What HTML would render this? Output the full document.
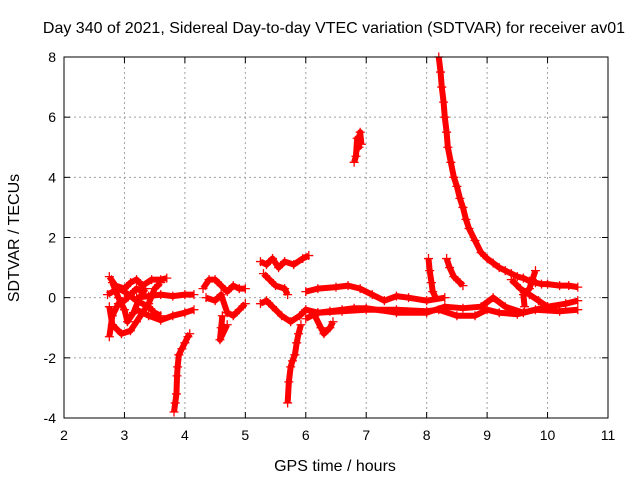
<!DOCTYPE html>
<html><head><meta charset="utf-8"><style>
body{margin:0;background:#fff}
svg text{font-family:"Liberation Sans",sans-serif;font-size:14px;fill:#000}
svg text.big{font-size:16px}
</style></head><body>
<svg id="chart" width="640" height="480">
<text class="big" x="334" y="33" text-anchor="middle">Day 340 of 2021, Sidereal Day-to-day VTEC variation (SDTVAR) for receiver av01</text>
<text class="big" x="335" y="471" text-anchor="middle">GPS time / hours</text>
<text class="big" transform="translate(19,238) rotate(-90)" text-anchor="middle">SDTVAR / TECUs</text>
<g id="grid"></g><g id="marks"></g>
<rect x="64" y="57" width="544" height="361" fill="none" stroke="#000"/>
</svg>
<script>
const xTicks=[2,3,4,5,6,7,8,9,10,11];
const yTicks=[-4,-2,0,2,4,6,8];
const trackEarlyUpper=[[3.2,0.0],[3.4,0.05],[3.6,0.1],[3.8,0.05],[4.0,0.1],[4.15,0.1]];
const trackEarlyLower=[[3.2,-0.4],[3.4,-0.6],[3.6,-0.75],[3.8,-0.6],[4.0,-0.5],[4.15,-0.4]];
const trackLoop1=[[2.75,0.7],[2.85,0.4],[3.0,0.3],[3.1,0.5],[3.2,0.6],[3.3,0.4],[3.45,0.6],[3.6,0.6],[3.7,0.65]];
const trackLoop2=[[2.75,-0.3],[2.8,-0.9],[2.95,-1.2],[3.1,-1.1],[3.2,-0.8],[3.3,-0.5],[3.4,-0.2],[3.5,0.3],[3.6,0.5]];
const trackLoop3=[[2.72,0.1],[2.9,0.3],[3.0,0.2],[3.2,-0.1],[3.4,-0.3],[3.5,-0.5],[3.6,-0.6]];
const trackLoop4=[[2.75,-1.3],[2.8,-0.6],[2.9,-0.2],[3.0,-0.1],[3.1,0.1],[3.2,0.3],[3.3,0.2]];
const trackLoop5=[[2.8,0.5],[2.9,0.0],[3.0,-0.4],[3.05,-0.8],[3.15,-0.5],[3.25,0.0],[3.35,0.3]];
const trackDrop1=[[3.82,-3.8],[3.84,-3.5],[3.86,-3.2],[3.87,-2.6],[3.88,-2.3],[3.9,-1.9],[3.95,-1.7],[4.0,-1.5],[4.05,-1.3],[4.08,-1.2]];
const trackMidUpper=[[4.3,0.3],[4.4,0.6],[4.5,0.6],[4.6,0.4],[4.7,0.2],[4.8,0.4],[4.9,0.3],[5.0,0.3]];
const trackMidLower=[[4.35,0.0],[4.5,-0.1],[4.6,0.1],[4.7,-0.5],[4.8,-0.6],[4.9,-0.4],[5.0,-0.2]];
const trackMidDangle=[[4.62,-0.6],[4.6,-1.0],[4.58,-1.4],[4.7,-0.9]];
const trackHigh=[[5.25,1.2],[5.35,1.1],[5.45,1.3],[5.55,1.0],[5.65,1.2],[5.8,1.1],[5.95,1.3],[6.05,1.4]];
const trackHighDangle=[[5.3,0.8],[5.4,0.6],[5.5,0.4],[5.65,0.3],[5.7,0.1]];
const trackLow=[[5.25,-0.2],[5.35,-0.1],[5.45,-0.3],[5.6,-0.6],[5.75,-0.8],[5.9,-0.6],[6.0,-0.4],[6.2,-0.5],[6.4,-0.45],[6.6,-0.4],[6.8,-0.35],[7.0,-0.35],[7.5,-0.5],[8.0,-0.5],[8.3,-0.3],[8.6,-0.35],[8.9,-0.3],[9.1,0.0],[9.3,-0.3],[9.6,-0.5],[10.0,-0.3],[10.3,-0.2],[10.5,-0.1]];
const trackLow2=[[6.0,-0.7],[6.2,-0.5],[6.6,-0.45],[7.0,-0.4],[7.5,-0.4],[8.0,-0.45],[8.2,-0.4],[8.5,-0.6],[8.8,-0.6],[9.0,-0.4],[9.2,-0.5],[9.5,-0.55],[9.8,-0.4],[10.2,-0.45],[10.5,-0.4]];
const trackDrop2=[[5.7,-3.5],[5.72,-2.8],[5.75,-2.3],[5.78,-2.1],[5.82,-1.9],[5.85,-1.5],[5.88,-1.2],[5.92,-0.9]];
const trackBump=[[6.0,0.2],[6.2,0.3],[6.5,0.35],[6.7,0.4],[6.9,0.3],[7.1,0.1],[7.3,-0.1],[7.5,0.05],[7.7,0.0],[8.0,-0.1],[8.3,0.0]];
const trackCluster=[[6.15,-0.6],[6.25,-1.0],[6.3,-1.2],[6.4,-1.0],[6.45,-0.8]];
const trackIsland=[[6.8,4.5],[6.83,4.7],[6.85,5.3],[6.88,5.0],[6.9,5.5],[6.92,5.1]];
const trackDecay=[[8.2,8.0],[8.23,7.5],[8.25,7.0],[8.28,6.5],[8.3,6.0],[8.33,5.5],[8.35,5.0],[8.4,4.5],[8.45,4.0],[8.5,3.7],[8.55,3.3],[8.6,3.0],[8.65,2.6],[8.7,2.3],[8.8,1.9],[8.9,1.5],[9.0,1.3],[9.1,1.15],[9.2,1.0],[9.3,0.9],[9.4,0.8],[9.5,0.7],[9.6,0.65],[9.7,0.55],[9.8,0.5],[9.9,0.45],[10.0,0.45],[10.2,0.4],[10.35,0.4],[10.5,0.35]];
const trackBranch=[[9.4,0.6],[9.55,0.3],[9.7,0.1],[9.85,-0.1],[10.0,-0.3]];
const spikeA=[[8.03,1.3],[8.05,0.9],[8.08,0.5],[8.1,0.2],[8.15,0.0]];
const spikeB=[[8.33,1.3],[8.38,1.0],[8.45,0.7],[8.55,0.5],[8.6,0.4]];
const spikeC=[[9.8,0.9],[9.75,0.6],[9.7,0.3],[9.6,0.1],[9.62,-0.3]];
const tracks=[trackEarlyUpper,trackEarlyLower,trackLoop1,trackLoop2,trackLoop3,trackLoop4,trackLoop5,trackDrop1,trackMidUpper,trackMidLower,trackMidDangle,trackHigh,trackHighDangle,trackLow,trackLow2,trackDrop2,trackBump,trackCluster,trackIsland,trackDecay,trackBranch,spikeA,spikeB,spikeC];
const X0=64,X1=608,Y0=418,Y1=57;
const sx=t=>X0+(t-2)/9*(X1-X0);
const sy=v=>Y0-(v+4)/12*(Y0-Y1);
const NS="http://www.w3.org/2000/svg";
const grid=document.getElementById('grid'),marks=document.getElementById('marks');
function mk(tag,attrs,parent){const e=document.createElementNS(NS,tag);for(const k in attrs)e.setAttribute(k,attrs[k]);parent.appendChild(e);return e;}
xTicks.forEach(t=>{const x=sx(t);
 if(t>2&&t<11){const g=mk('line',{x1:x,x2:x,y1:Y1,y2:Y0,stroke:'#a0a0a0','stroke-dasharray':'2,3'},grid);
 
 }
 mk('line',{x1:x,x2:x,y1:Y0,y2:Y0-6,stroke:'#000'},grid);mk('line',{x1:x,x2:x,y1:Y1,y2:Y1+6,stroke:'#000'},grid);
 const tx=mk('text',{x:x,y:Y0+22,'text-anchor':'middle'},grid);tx.textContent=t;
 
 });
yTicks.forEach(v=>{const y=sy(v);
 if(v>-4&&v<8){const g=mk('line',{x1:X0,x2:X1,y1:y,y2:y,stroke:'#a0a0a0','stroke-dasharray':'2,3'},grid);
 
 }
 mk('line',{x1:X0,x2:X0+6,y1:y,y2:y,stroke:'#000'},grid);mk('line',{x1:X1,x2:X1-6,y1:y,y2:y,stroke:'#000'},grid);
 const tx=mk('text',{x:X0-8,y:y+5,'text-anchor':'end'},grid);tx.textContent=v;
 
 });
tracks.forEach(tr=>{
 const pl=mk('polyline',{points:tr.map(p=>sx(p[0])+','+sy(p[1])).join(' '),fill:'none',stroke:'#f00','stroke-width':6,'stroke-linejoin':'round'},marks);
 
 
 tr.forEach(p=>{const x=sx(p[0]),y=sy(p[1]);
  const m=mk('path',{d:`M${x-4.5},${y}H${x+4.5}M${x},${y-4.5}V${y+4.5}`,stroke:'#f00','stroke-width':1.3},marks);
  
  });
});
</script>
</body></html>
